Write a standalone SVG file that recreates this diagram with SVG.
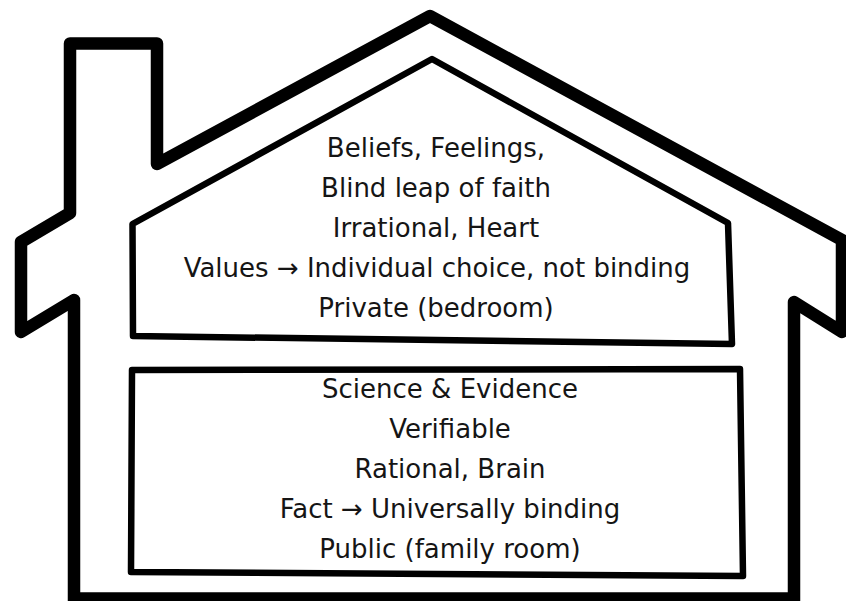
<svg xmlns="http://www.w3.org/2000/svg" width="846" height="601" viewBox="0 0 846 601">
<style>
.outer{fill:none;stroke:#000;stroke-width:12.5;stroke-linejoin:round;stroke-linecap:round}
.base{fill:none;stroke:#000;stroke-width:12.5;stroke-linecap:butt}
.room{fill:none;stroke:#000;stroke-width:6.5;stroke-linejoin:round}
.t{font-family:"DejaVu Sans","Liberation Sans",sans-serif;font-size:26px;fill:#151515;text-anchor:middle}
</style>
<rect width="846" height="601" fill="#fff"/>
<g id="house-outline">
<path class="outer" d="M74 610 L74 300 L21 332 L21 242 L70 213 L70 43.5 L157 43.5 L157 164 L430 16 L842 240 L842 332 L794 302 L794 610"/>
<path class="base" d="M68 598.5 L800 598.5"/>
</g>
<g id="upper-room">
<path class="room" d="M132.5 224 L432 59 L728 223 L732 344 L133 336 Z"/>
<text class="t" x="436" y="157">Beliefs, Feelings,</text>
<text class="t" x="436" y="197">Blind leap of faith</text>
<text class="t" x="436" y="237">Irrational, Heart</text>
<text class="t" x="437" y="277">Values → Individual choice, not binding</text>
<text class="t" x="436" y="317">Private (bedroom)</text>
</g>
<g id="lower-room">
<path class="room" d="M132 370 L740 369 L743 576 L131 572 Z"/>
<text class="t" x="450" y="398">Science &amp; Evidence</text>
<text class="t" x="450" y="438">Verifiable</text>
<text class="t" x="450" y="478">Rational, Brain</text>
<text class="t" x="450" y="518">Fact → Universally binding</text>
<text class="t" x="450" y="558">Public (family room)</text>
</g>
</svg>
